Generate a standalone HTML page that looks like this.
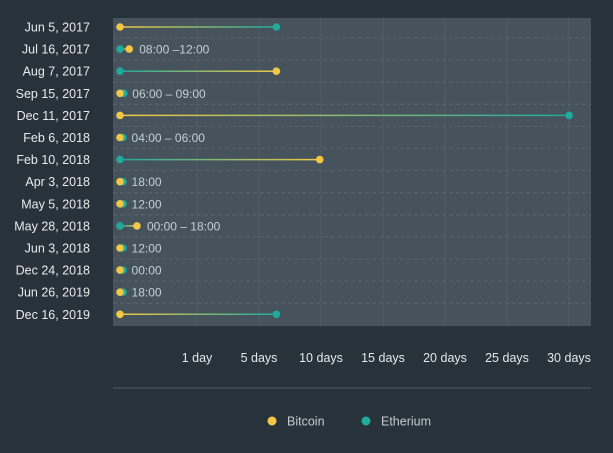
<!DOCTYPE html>
<html><head><meta charset="utf-8"><style>
html,body{margin:0;padding:0;background:#28323a;}
svg{display:block;font-family:"Liberation Sans",sans-serif;}
</style></head><body>
<svg id="chart" width="613" height="453">
<defs id="defs"></defs>
<rect x="0" y="0" width="613" height="453" fill="#28323a"/>
<rect x="113" y="18" width="478" height="308" fill="#46535d"/>
<g id="grid"></g><g id="marks"></g><g id="ylabels"></g><g id="xlabels"></g>
<line x1="113" y1="388" x2="591" y2="388" stroke="#4f5b63" stroke-width="1"/>
<g>
<circle cx="272" cy="421" r="4.5" fill="#f2c744"/><text x="287" y="425.5" font-size="12.5" fill="#c3cbd0">Bitcoin</text></g>
<g>
<circle cx="366" cy="421" r="4.5" fill="#1faa9b"/><text x="381" y="425.5" font-size="12.5" fill="#c3cbd0">Etherium</text></g>
</svg>
<script>
const categories=["Jun 5, 2017","Jul 16, 2017","Aug 7, 2017","Sep 15, 2017","Dec 11, 2017","Feb 6, 2018","Feb 10, 2018","Apr 3, 2018","May 5, 2018","May 28, 2018","Jun 3, 2018","Dec 24, 2018","Jun 26, 2019","Dec 16, 2019"];
const bitcoin=[0,0.12,6.4,0,0,0,9.9,0,0,0.22,0,0,0,0];
const etherium=[6.4,0,0,0.03,30,0.02,0,0.02,0.02,0,0.02,0.02,0.02,6.4];
const rangeLabels=["","08:00 –12:00","","06:00 – 09:00","","04:00 – 06:00","","18:00","12:00","00:00 – 18:00","12:00","00:00","18:00",""];
const tickValues=[1,5,10,15,20,25,30];
const tickLabels=["1 day","5 days","10 days","15 days","20 days","25 days","30 days"];
const NS="http://www.w3.org/2000/svg";
const dom=[0,1,5,30],rng=[120,197,259,569];
function xScale(v){for(let i=0;i<dom.length-1;i++){if(v<=dom[i+1]||i===dom.length-2){return rng[i]+(v-dom[i])/(dom[i+1]-dom[i])*(rng[i+1]-rng[i]);}}}
function yScale(i){return 27+i*22.1;}
function mk(t,a,p){const e=document.createElementNS(NS,t);for(const k in a)e.setAttribute(k,a[k]);p.appendChild(e);return e;}
const grid=document.getElementById('grid'),marks=document.getElementById('marks'),yl=document.getElementById('ylabels'),xl=document.getElementById('xlabels'),defs=document.getElementById('defs');
tickValues.forEach((v,i)=>{
 const x=xScale(v);
 const gl=mk('line',{x1:x,x2:x,y1:18,y2:326,stroke:'#505e68','stroke-width':1},grid);
 
 
 const t=mk('text',{x:x,y:362,'text-anchor':'middle','font-size':12.5,fill:'#e4e8ea'},xl);
 t.textContent=tickLabels[i];
 
 
});
categories.forEach((c,i)=>{
 const y=yScale(i);
 if(i<categories.length-1){
  const d=mk('line',{x1:113,x2:591,y1:y+11,y2:y+11,stroke:'#5c6972','stroke-width':0.8,'stroke-dasharray':'4 3'},grid);
  
  
 }
 const t=mk('text',{x:90,y:y+4.5,'text-anchor':'end','font-size':12.5,fill:'#e8ebed'},yl);
 t.textContent=c;
 
 
 const xb=xScale(bitcoin[i]),xe=xScale(etherium[i]);
 const bFirst=xb<=xe;
 const x1=Math.min(xb,xe),x2=Math.max(xb,xe);
 if(x2-x1>3){
  const gid='g'+i;
  const g=mk('linearGradient',{id:gid,gradientUnits:'userSpaceOnUse',x1:x1,x2:x2,y1:0,y2:0},defs);
  mk('stop',{offset:'0','stop-color':bFirst?'#f2c744':'#1faa9b'},g);
  mk('stop',{offset:'1','stop-color':bFirst?'#1faa9b':'#f2c744'},g);
  const ln=mk('line',{x1:x1,x2:x2,y1:y,y2:y,stroke:'url(#'+gid+')','stroke-width':1.5},marks);
  
  
 }
 const ce=mk('circle',{cx:xe+(Math.abs(xe-xb)<3&&!bFirst?0:(Math.abs(xe-xb)<3?1.5:0)),cy:y,r:3.8,fill:'#1faa9b'},marks);
 
 
 const cb=mk('circle',{cx:xb,cy:y,r:3.8,fill:'#f2c744'},marks);
 
 
 if(rangeLabels[i]){
  const rl=mk('text',{x:x2+10,y:y+4.5,'font-size':12,fill:'#c6ced3'},marks);
  rl.textContent=rangeLabels[i];
  
  
 }
});
</script>
</body></html>
